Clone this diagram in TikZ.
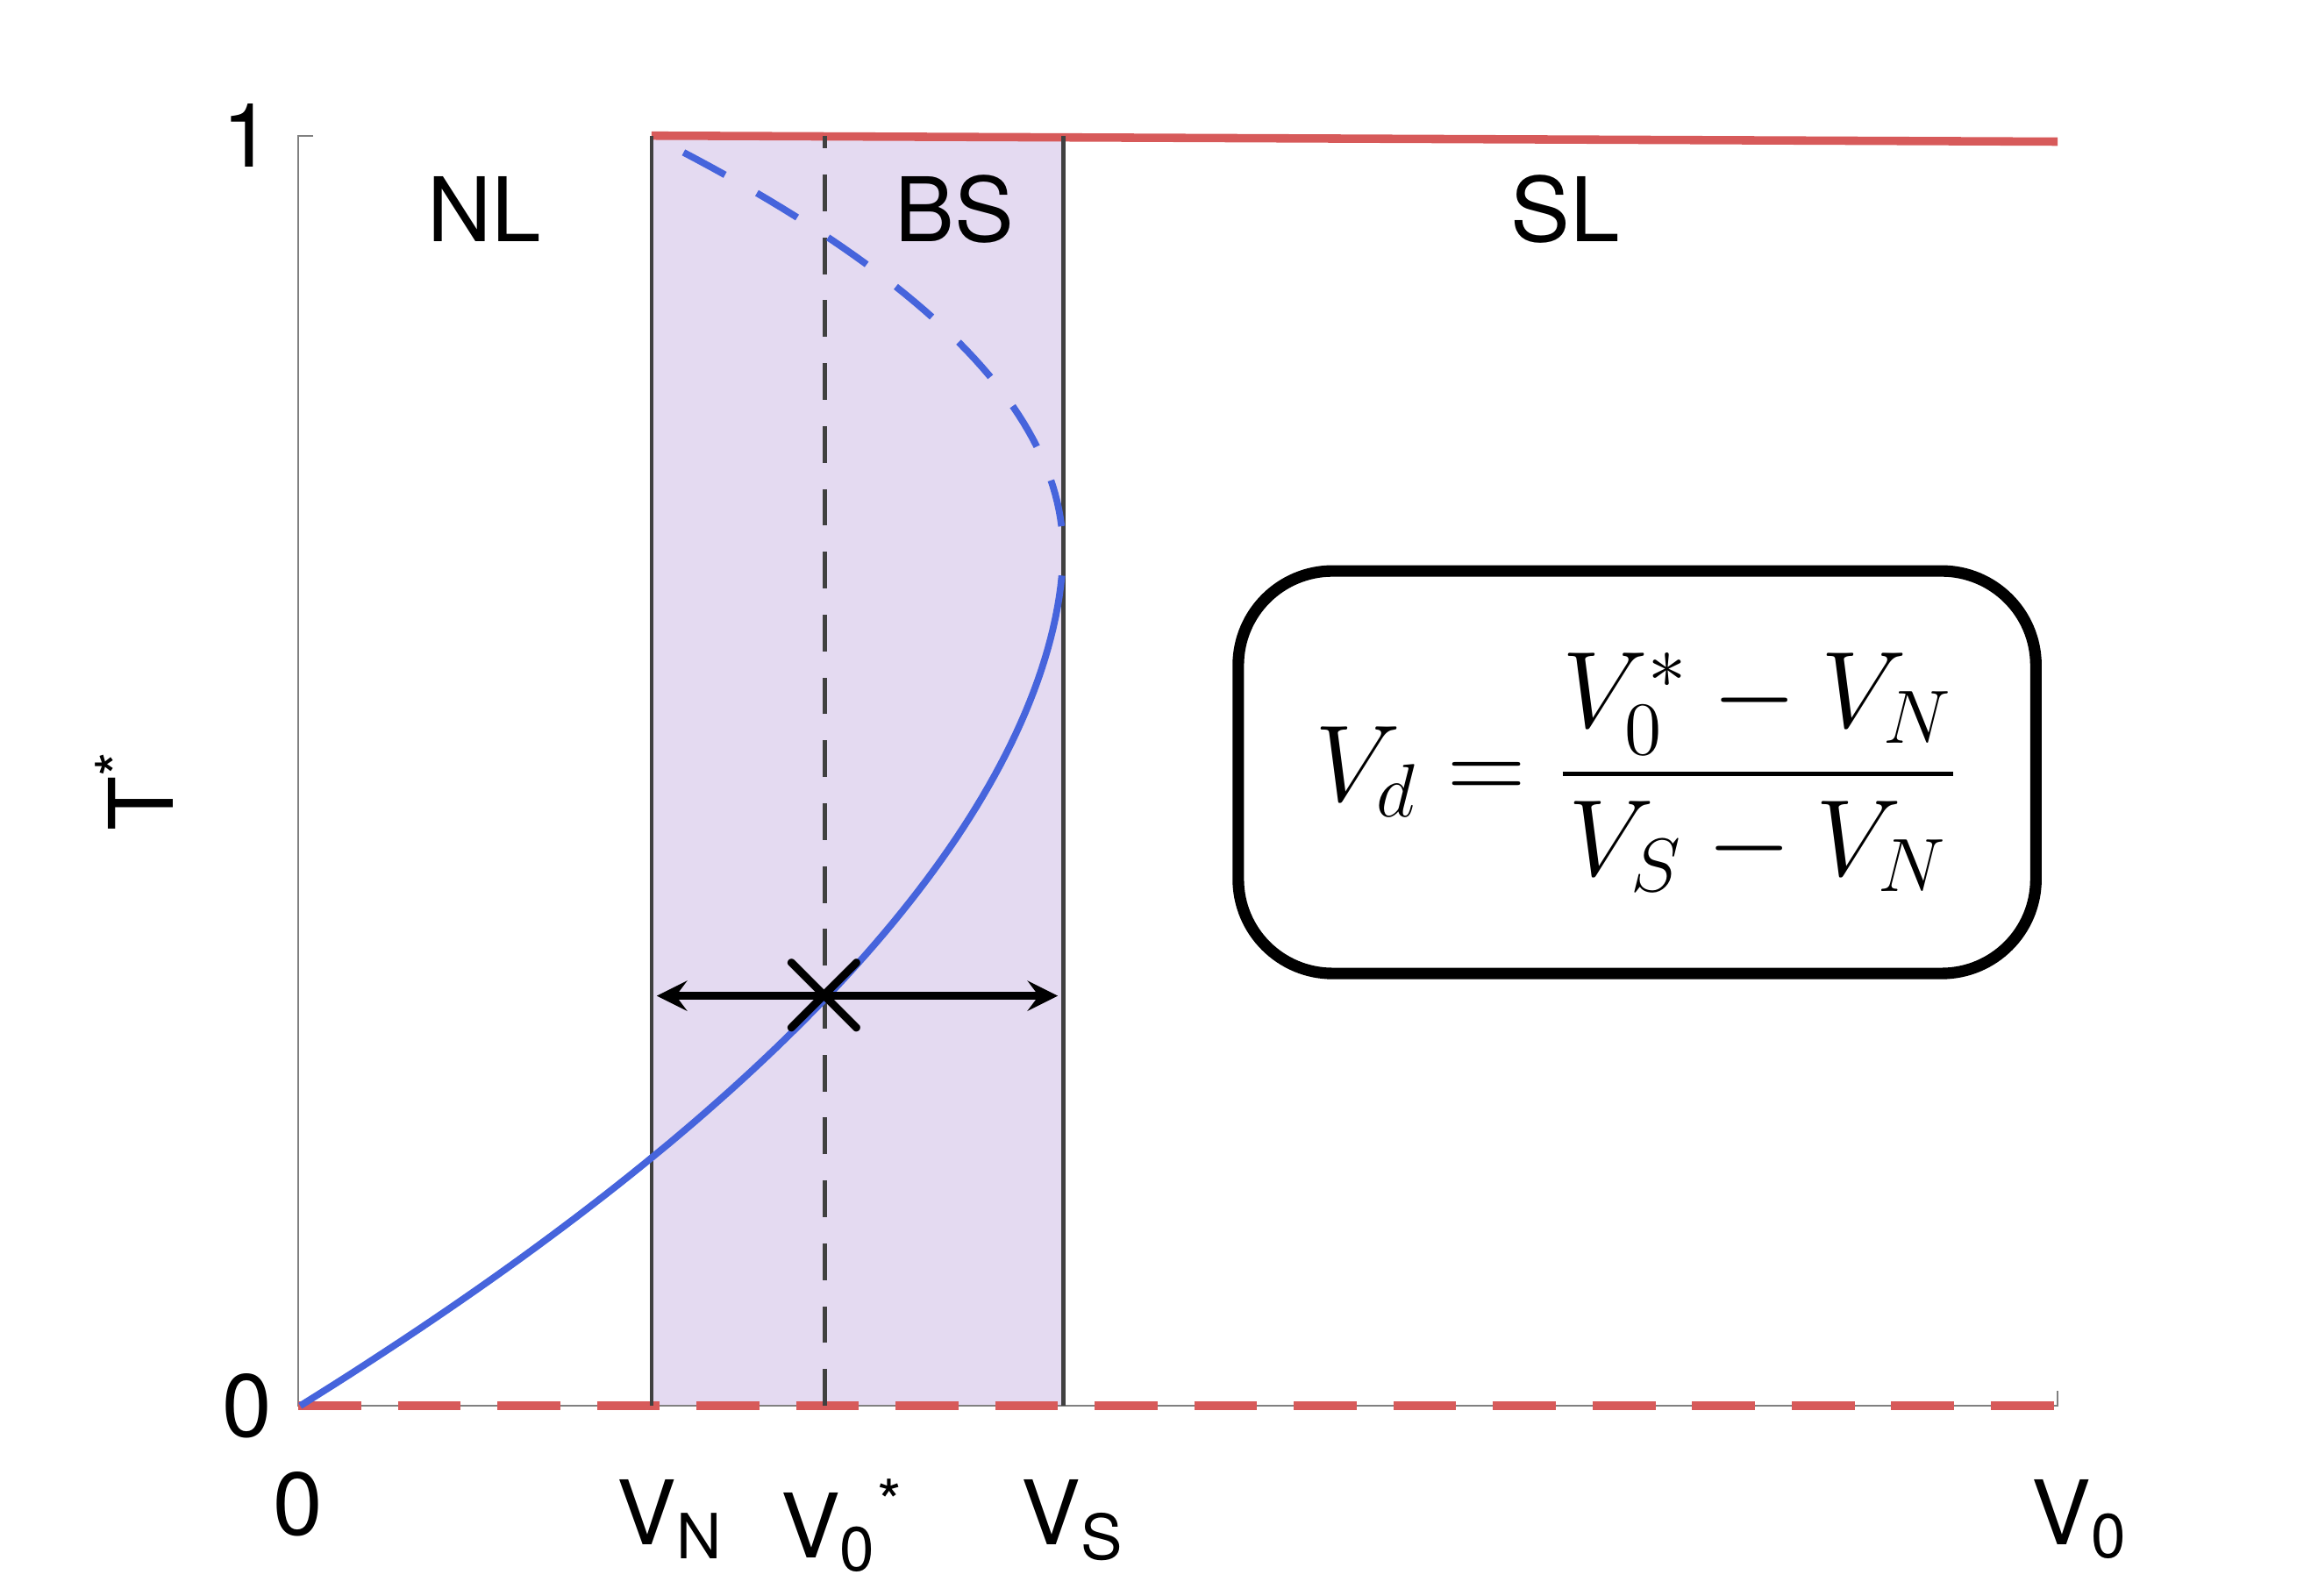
\documentclass[tikz,border=0pt]{standalone}
\usepackage{amsmath}
\usepackage{fontspec}
\setsansfont{TeX Gyre Heros}
\usepackage{tikz}
\tikzset{lab/.style={font=\sffamily\fontsize{17}{20}\selectfont},
  bluecurve/.style={line width=1.3pt,color={rgb,255:red,70;green,100;blue,220}},
  redline/.style={line width=1.6pt,color={rgb,255:red,215;green,90;blue,90}}}
\begin{document}
\begin{tikzpicture}[>=latex]
    \useasboundingbox (0,0) rectangle (15.5,10.7);
    \fill[color={rgb,255:red,228;green,218;blue,241}] (4.37,1.27) rectangle (7.13,9.79);
    \draw[gray,thin] (2.1,9.79)--(2,9.79)--(2,1.27)--(13.8,1.27)--(13.8,1.37);
    \draw[redline,dashed,dash pattern=on 12pt off 7pt] (2,1.27)--(13.8,1.27);
    \draw[redline] (4.37,9.79)--(13.8,9.75);
    \draw[black!75,line width=0.8pt] (4.37,1.27)--(4.37,9.79);
    \draw[black!75,line width=0.8pt] (7.13,1.27)--(7.13,9.79);
    \draw[black!75,line width=0.8pt,dashed,dash pattern=on 7pt off 5pt] (5.53,1.27)--(5.53,9.79);
    \draw[bluecurve,domain=1.27:6.84,samples=80] plot({7.13-0.221*(7-\x)^1.8},\x);
    \draw[bluecurve,dashed,dash pattern=on 9pt off 7pt,domain=7.17:9.79,samples=50] plot({7.13-0.355*(\x-7)^2},\x);
    \coordinate (left) at (4.37,4.02);
    \coordinate (right) at (7.13,4.02);
    \draw[<->,>=stealth,line width=1.5pt,shorten <=1pt,shorten >=1pt] (left)--(right);
    \node[font=\fontsize{34}{34}\selectfont] (cross) at (5.53,4.02) {$\boldsymbol{\times}$};
    \node[lab,left] (one) at (1.95,9.79) {1};
    \node[lab,left] (zero) at (1.95,1.27) {0};
    \node[lab,below] (xzero) at (2,0.95) {0};
    \node[lab,below] (vn) at (4.5,0.9) {V\textsubscript{N}};
    \node[lab,below] (vstar) at (5.65,0.9) {V\textsubscript{0}\textsuperscript{*}};
    \node[lab,below] (vs) at (7.2,0.9) {V\textsubscript{S}};
    \node[lab,below] (vzero) at (13.95,0.9) {V\textsubscript{0}};
    \node[lab,rotate=90] (tstar) at (0.9,5.4) {T\textsuperscript{*}};
    \node[lab] (nl) at (3.25,9.3) {NL};
    \node[lab] (bs) at (6.4,9.3) {BS};
    \node[lab] (sl) at (10.5,9.3) {SL};
    \node[draw,line width=2.2pt,rounded corners=18pt,minimum width=5.35cm,minimum height=2.7cm,
      font=\fontsize{20}{24}\selectfont] (formula) at (10.98,5.52)
      {$V_d=\dfrac{V_0^{*}-V_N}{V_S-V_N}$};
\end{tikzpicture}
\end{document}
